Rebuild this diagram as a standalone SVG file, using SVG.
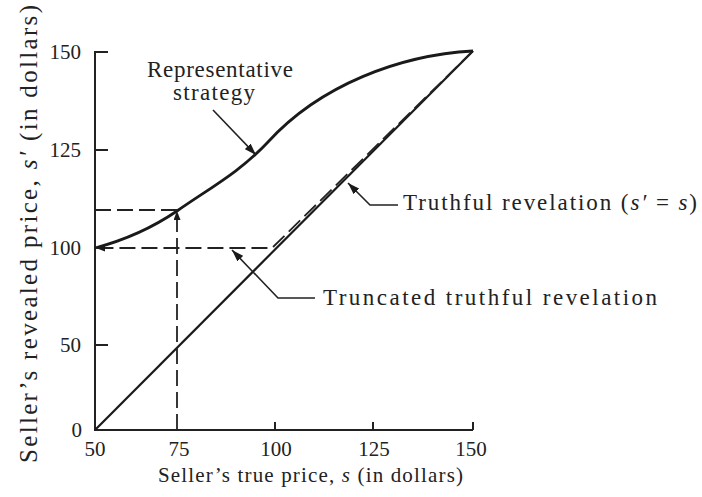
<svg xmlns="http://www.w3.org/2000/svg" width="702" height="497" viewBox="0 0 702 497">
<style>
.t{font-family:"Liberation Serif","Times New Roman",serif;fill:#222;}
.tick{font-size:21px;}
.lab{font-size:23px;}
.ax{stroke:#222;stroke-width:2;fill:none;}
.sol{stroke:#1a1a1a;stroke-width:2.2;fill:none;}
.crv{stroke:#1a1a1a;stroke-width:2.8;fill:none;}
.dash{stroke:#222;stroke-width:1.8;fill:none;stroke-dasharray:16 6;}
.lead{stroke:#222;stroke-width:1.6;fill:none;}
</style>
<defs>
<marker id="ah" markerUnits="userSpaceOnUse" markerWidth="12" markerHeight="8" refX="12" refY="4" orient="auto">
<path d="M0,0 L12,4 L0,8 z" fill="#1a1a1a"/>
</marker>
<marker id="sm" markerUnits="userSpaceOnUse" markerWidth="9" markerHeight="7" refX="9" refY="3.5" orient="auto">
<path d="M0,0 L9,3.5 L0,7 z" fill="#1a1a1a"/>
</marker>
</defs>
<rect width="702" height="497" fill="#fff"/>
<g id="axes">
<path class="ax" d="M95,51 V430 H473"/>
<path class="ax" d="M95,52 H108 M95,150 H108 M95,345 H108 M275,430 V422 M373,430 V422 M473,430 V422"/>
<text class="t tick" x="81" y="59" text-anchor="end">150</text>
<text class="t tick" x="81" y="157" text-anchor="end">125</text>
<text class="t tick" x="81" y="255" text-anchor="end">100</text>
<text class="t tick" x="81" y="352" text-anchor="end">50</text>
<text class="t tick" x="82" y="437" text-anchor="end">0</text>
<text class="t tick" x="95" y="456" text-anchor="middle">50</text>
<text class="t tick" x="179" y="456" text-anchor="middle">75</text>
<text class="t tick" x="276" y="456" text-anchor="middle">100</text>
<text class="t tick" x="374" y="456" text-anchor="middle">125</text>
<text class="t tick" x="471" y="456" text-anchor="middle">150</text>
<text class="t" style="font-size:21px" x="158" y="482" textLength="305" lengthAdjust="spacing">Seller’s true price, <tspan font-style="italic">s</tspan> (in dollars)</text>
<text class="t" style="font-size:25px" transform="translate(37,463) rotate(-90)" x="0" y="0" textLength="458" lengthAdjust="spacing">Seller’s revealed price, <tspan font-style="italic">s′</tspan> (in dollars)</text>
</g>
<g id="truthful-line">
<path class="sol" d="M95,430 L473,51"/>
</g>
<g id="truncated-line">
<path class="dash" d="M473,51 L272,248 H96" marker-end="url(#sm)"/>
</g>
<g id="representative-curve">
<path class="crv" d="M95,248 C125,240 155,226 177,211 C210,188 240,172 268,142 C320,85 400,55 473,51"/>
</g>
<g id="guides">
<path class="dash" d="M95,210 H177"/>
<path class="dash" d="M177,430 V211" marker-end="url(#sm)"/>
</g>
<g id="connectors">
<path class="lead" d="M213,110 L256,155" marker-end="url(#ah)"/>
<path class="lead" d="M398,205 H370 L348,183" marker-end="url(#ah)"/>
<path class="lead" d="M315,298 H278 L232,250" marker-end="url(#ah)"/>
</g>
<g id="label-representative">
<text class="t lab" x="147" y="77" textLength="146" lengthAdjust="spacing">Representative</text>
<text class="t lab" x="173" y="100" textLength="82" lengthAdjust="spacing">strategy</text>
</g>
<g id="label-truthful">
<text class="t lab" x="403" y="210" textLength="294" lengthAdjust="spacing">Truthful revelation (<tspan font-style="italic">s′</tspan> = <tspan font-style="italic">s</tspan>)</text>
</g>
<g id="label-truncated">
<text class="t lab" x="323" y="305" textLength="334" lengthAdjust="spacing">Truncated truthful revelation</text>
</g>
</svg>
